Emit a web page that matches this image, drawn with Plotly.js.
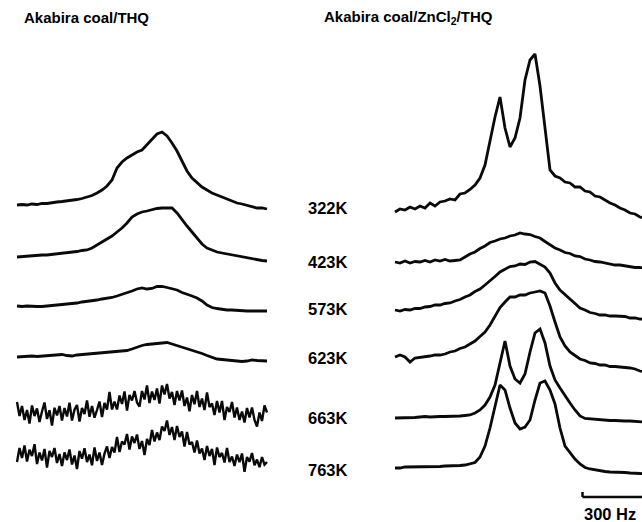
<!DOCTYPE html>
<html><head><meta charset="utf-8">
<script src="https://cdn.plot.ly/plotly-3.0.1.min.js"></script>
<style>html,body{margin:0;padding:0;background:#fff;} #chart{width:642px;height:522px;}</style>
</head><body><div id="chart"></div>
<script>
// ---------- DATA ----------
const temperatures = ['322K','423K','573K','623K','663K','763K'];
const panelTitles = ['Akabira coal/THQ', 'Akabira coal/ZnCl<sub>2</sub>/THQ'];
const scaleBarHz = 300;
const scaleBarLabel = '300 Hz';

// frequency axes (Hz)
const freqCoarse = [0,24,48,72,96,120,144,168,192,216,240,264,288,312,336,360,384,408,432,456,480,504,528,552,576,600,624,648,672,696,720,744,768,792,816,840,864,888,912,936,960,984,1008,1032,1056,1080,1104,1128,1152,1176,1200];
const freqFine = [0,12,24,36,48,60,72,84,96,108,120,132,144,156,168,180,192,204,216,228,240,252,264,276,288,300,312,324,336,348,360,372,384,396,408,420,432,444,456,468,480,492,504,516,528,540,552,564,576,588,600,612,624,636,648,660,672,684,696,708,720,732,744,756,768,780,792,804,816,828,840,852,864,876,888,900,912,924,936,948,960,972,984,996,1008,1020,1032,1044,1056,1068,1080,1092,1104,1116,1128,1140,1152,1164,1176,1188,1200];

// Akabira coal/THQ (signal intensity, arbitrary units)
const thq322 = [0,0.5,0,1,0.5,1.5,1.5,2.5,3,3.5, 4,4.5,5.5,6.5,8,9.5,12,15,19,25, 37,43,47,50,53,55,60,66,71,73, 69,62,54,44,34,27,22,18,15,12, 10,8,6,4,2,1,-0.5,-1.5,-3,-3, -4];
const thq423 = [0,0.5,0.5,1,1.5,2,2,2.5,3,3.5, 4,5,5.5,6.5,7,9,12,14.5,17.5,21, 25,29,34,40,43,45,46,47.5,48.5,49, 49,49,44,37,31,25,19,13,9,7, 5,4,3,2,1,0,-1,-2,-2.5,-3.5, -4];
const thq573 = [0,-0.5,0,-0.5,-0.5,-0.5,0,0,0.5,1, 2,2.5,3,4,4.5,5.5,6,7,7.5,8.5, 10,11.5,13,15,17,18,17,17.5,19.5,19.5, 18.5,17.5,16,13.5,12,10,8,5,1,-1.5, -2.5,-3.5,-4,-4,-4.5,-4.5,-5,-5,-5,-5, -5];
const thq623 = [0,0.5,0.5,1,0.5,1,1,1.5,2,2.5, 1.5,1,2,2.5,3,3.5,4,4.5,4.5,5, 5.5,6,6.5,8,10,11.5,12.5,13,13.5,14, 14.5,13,11.5,10,8.5,7,5,3.5,1.5,-0.5, -2,-2.5,-3,-3.5,-4,-4.5,-4,-3,-3.5,-3.5, -4];
const thq663 = [11,-3,7,-7,3,-10.5,7.5,-3,4.5,-9, 1.5,10.5,-6,2.75,-12.5,5.25,-2.5,7,-7.5,5, -3.5,10.25,-7.5,3.25,8,-8.5,5,-1,12.5,-3.75, 7,-4.75,3,11.5,-4,10,3.5,21,3.5,11.5, 3.5,17.5,9,21.5,2.5,18,12.5,22,10.5,6.5, 22,13.5,27.5,10,21.5,13,24.5,9.5,27.5,18.5, 29,14.5,21,8,22,12.5,22.5,7,15.5,1.7, 18,8.7,22,6,14.5,3,20.5,6,9.5,-2, 12,0.5,12,-7,6,1,11,-4.5,5.5,-7, 1.5,-9.5,5,-4.5,5.5,-7,-13.5,0.5,-8,7.5, 0.5];
const thq763 = [-5,9,-1,11.5,-4.5,7.25,1,12.75,-7,4.5, -3.5,8,-10.5,6,0,9,-6,3,-9,4.5, -3,7.5,-7.5,1.5,-12,6,-1.75,8.75,-5,2.4, -8.25,9.6,-4,4.5,-8,3.5,10.5,-1,10,4.5, 20,5,15.5,12.5,23,7.5,20.5,14,22.5,8, 16,2,18,12,27,15.5,24.5,17,30.5,26, 36.5,22,30,17,31,20,25.5,10.5,25,12.5, 15,4.5,16.5,3.5,8.5,-3,11,1,8,-8, 9.5,0,4,-5.5,9,-5,0.5,-9,2.5,-5.25, 3.5,-14.75,0,-4.75,4,-8.25,-2.5,-10.25,0,-7.75, -5];

// Akabira coal/ZnCl2/THQ
const zn322 = [0,3,2,5,3,6,4,9,6,10, 11,13,12,18,19,22.5,27,34,47,72, 95,115,84,65,74,94,132,152,158,126, 84,42,36,34,30,29,25,25,21,20, 16,15,12,9,7,4,2,-1,-2,-5, -6.5];
const zn423 = [0,-1,1,-1,0.5,0,1.5,0,2,1, 2.5,1,1.5,2,5,8,10,13.5,16,19.5, 21,23,24,26,27,29,28,27.5,25.5,24, 20.5,17.5,14,12,9.5,8.5,6,5.5,3,2, 0.5,0,-1,-1.5,-3,-3,-4,-4.5,-5.5,-5.5, -6.5];
const zn573 = [0,-1,0.5,0,1.5,1.5,3,3.5,5,5, 6.5,7,9,10.5,13,15,18.5,21,25,29, 33.5,38,41,43.5,44,46,45.5,48,48.5,46, 43,37,27,20,15.5,10,6.5,2,0,-2.5, -3.5,-5,-5,-6,-6,-6.5,-6.5,-8,-8,-9, -9.5];
const zn623 = [0,2,0,-5,-1,-0.5,0.5,1,2,2, 3,5,6,8.5,10,13,16,20.5,25,32, 41,49.5,55,60,60,62,62,64,65,66, 64,51,35,20,11,5,1.5,-2,-3.5,-6, -6.5,-8,-8,-9.5,-9.5,-10,-10,-11,-12,-14, -15];
const zn663 = [0,0,0,0.5,0.5,1,1.5,1,1.5,1.5, 1.5,1.5,2,2,2.5,3,5,8,13,21, 33,56,77,52,39,35,44,66,85,89, 75,52,38,30,22,15,8,2,-0.5,-1, -1.5,-2,-2,-2.5,-2.5,-3,-3,-3,-3.5,-3.5, -4];
const zn763 = [0,0,1,1,1.5,1,1.5,1.5,1.5,1.5, 2,2,2.5,2.5,3,4,5.5,11,22,40, 63,83,78,60,45,39,41,48,68,85, 87,78,64,40,22,15,9,4,0.5,-1, -2,-3,-3.5,-4,-4,-4.5,-4.5,-5,-5,-5.5, -6];

// ---------- LAYOUT / STYLE ----------
const W = 642, H = 522;
const cfg = {
  leftBase:  [205, 257, 306, 357, 413, 457],
  rightBase: [212, 262, 310, 357, 418, 468],
  labelY:    [207.5, 261.5, 308.5, 358.3, 418.3, 470],
  labelX: 306,
  titleY: 17.5,
  titleX: [22, 322],
  lineColor: '#0a0a0a',
  lineWidth: 2.8,
  noisyWidth: 2.4,
  font: 'Liberation Sans, Arial, Helvetica, sans-serif'
};

const leftSeries  = [thq322, thq423, thq573, thq623, thq663, thq763];
const leftFreq    = [freqCoarse, freqCoarse, freqCoarse, freqCoarse, freqFine, freqFine];
const rightSeries = [zn322, zn423, zn573, zn623, zn663, zn763];

const traces = [];
leftSeries.forEach((s, i) => {
  const off = H - cfg.leftBase[i];
  traces.push({type:'scatter', mode:'lines', x: leftFreq[i], y: s.map(v => v + off),
    xaxis:'x', yaxis:'y',
    line:{color:cfg.lineColor, width: (i >= 4 ? cfg.noisyWidth : cfg.lineWidth), shape:'linear'},
    hoverinfo:'skip', showlegend:false, name: 'THQ ' + temperatures[i]});
});
rightSeries.forEach((s, i) => {
  const off = H - cfg.rightBase[i];
  traces.push({type:'scatter', mode:'lines', x: freqCoarse, y: s.map(v => v + off),
    xaxis:'x2', yaxis:'y', line:{color:cfg.lineColor, width:cfg.lineWidth, shape:'linear'},
    hoverinfo:'skip', showlegend:false, name: 'ZnCl2/THQ ' + temperatures[i]});
});

const annotations = [];
panelTitles.forEach((t, i) => annotations.push({
  xref:'paper', yref:'paper', x: cfg.titleX[i]/W, y: 1 - cfg.titleY/H,
  xanchor:'left', yanchor:'middle', showarrow:false, text:'<b>'+t+'</b>',
  font:{family:cfg.font, size:15, color:'#000'}
}));
temperatures.forEach((t, i) => annotations.push({
  xref:'paper', yref:'paper', x: cfg.labelX/W, y: 1 - cfg.labelY[i]/H,
  xanchor:'left', yanchor:'middle', showarrow:false, text:'<b>'+t+'</b>',
  font:{family:cfg.font, size:16.5, color:'#000'}
}));

const barStart = 900;        // Hz on right axis
const barY = H - 497;
annotations.push({xref:'x2', yref:'y', x: barStart - 4, y: H - 514, xanchor:'left', yanchor:'middle',
  showarrow:false, text:'<b>'+scaleBarLabel+'</b>', font:{family:cfg.font, size:16.5, color:'#000'}});

const shapes = [
  {type:'line', xref:'x2', yref:'y', x0: barStart, x1: barStart + scaleBarHz, y0: barY, y1: barY,
   line:{color:cfg.lineColor, width:2.5}},
  {type:'line', xref:'x2', yref:'y', x0: barStart, x1: barStart, y0: barY, y1: barY + 5,
   line:{color:cfg.lineColor, width:2.5}}
];

const layout = {
  width: W, height: H,
  margin:{l:0, r:0, t:0, b:0, pad:0},
  paper_bgcolor:'#fff', plot_bgcolor:'#fff',
  showlegend:false,
  xaxis: {domain:[12/W, 272/W], range:[-24, 1224], visible:false, fixedrange:true},
  xaxis2:{domain:[390/W, 1], range:[-24, (W-395)*4.8], visible:false, fixedrange:true},
  yaxis: {domain:[0, 1], range:[0, H], visible:false, fixedrange:true},
  annotations, shapes
};

Plotly.newPlot('chart', traces, layout, {staticPlot:true, displayModeBar:false});
</script>
</body></html>
